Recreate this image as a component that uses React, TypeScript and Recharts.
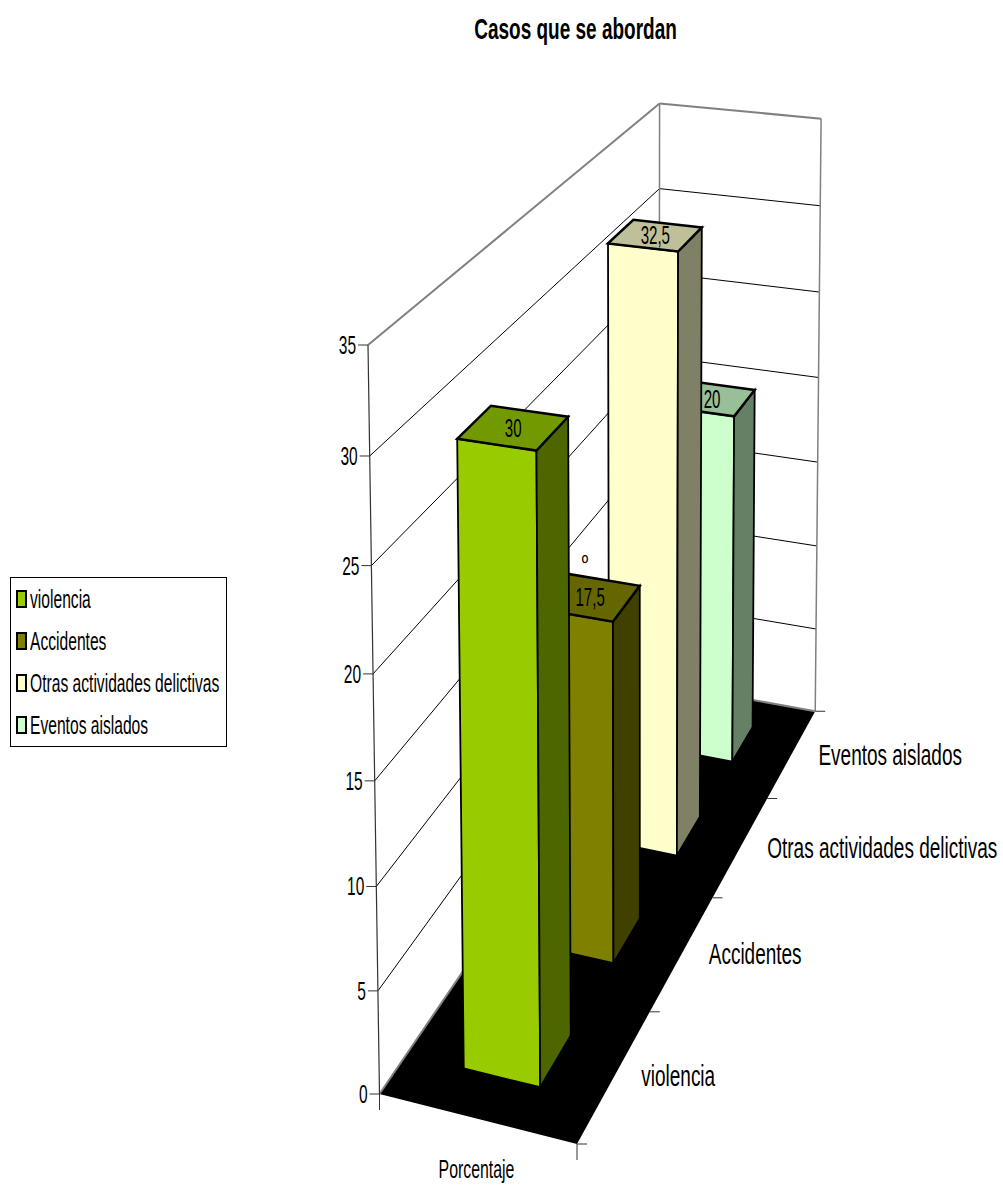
import React from "react";
import { BarChart, Bar, XAxis, YAxis, Legend, Customized, CartesianGrid } from "recharts";

const categories = ["violencia", "Accidentes", "Otras actividades delictivas", "Eventos aislados"];
const porcentaje = [30, 17.5, 32.5, 20];
const yTicks = [0, 5, 10, 15, 20, 25, 30, 35];
const frontColors = ["#99CC00", "#808000", "#FFFFCC", "#CCFFCC"];
const sideColors = ["#4D6600", "#404000", "#808066", "#668066"];
const topColors = ["#739900", "#666600", "#BFBF99", "#99BF99"];

// drawn back to front so nearer bars cover the farther ones
const table = categories.map((name, i) => ({ name, value: porcentaje[i], idx: i })).reverse();

const W = 1003;
const H = 1186;
// axes take 1px each (a zero sized axis is not drawn at all)
const margin = { left: 99, right: 100, top: 100, bottom: 99 };
const plotLeft = 100;
const plotW = 803;
const plotBottom = 1086;
const plotH = 986;
const FONT = "'Liberation Sans', Arial, sans-serif";

// bar thickness across the floor, as a share of the floor width
const U0 = 0.302;
const U1 = 0.697;

// perspective of the box: origin corner, the three far corners and their weights
const O = [379.5, 1094];
const PU = [577, 1144];
const PV = [368, 345];
const PW = [659, 683];
const wU = 0.97;
const wV = 0.958;
const wW = 1.31;

const project = (u: number, v: number, w: number) => {
  const d = 1 + u * (wU - 1) + v * (wV - 1) + w * (wW - 1);
  const at = (k: number) =>
    (O[k] + u * (wU * PU[k] - O[k]) + v * (wV * PV[k] - O[k]) + w * (wW * PW[k] - O[k])) / d;
  return [at(0), at(1)];
};
const pts = (list: number[][]) => list.map((p) => `${p[0]},${p[1]}`).join(" ");
const valueOf = (y: number) => (plotBottom - y) / plotH;
const depthOf = (x: number) => 1 - (x - plotLeft) / plotW;

const Narrow = ({ x, y, size, scale, anchor = "start", weight = "normal", children }: any) => (
  <text
    transform={`translate(${x} ${y}) scale(${scale} 1)`}
    textAnchor={anchor}
    fontFamily={FONT}
    fontSize={size}
    fontWeight={weight}
    fill="#000"
  >
    {children}
  </text>
);

const Line = ({ a, b, color = "#000", width = 1 }: any) => (
  <line x1={a[0]} y1={a[1]} x2={b[0]} y2={b[1]} stroke={color} strokeWidth={width} />
);

const Box = () => {
  const o = project(0, 0, 0);
  const u = project(1, 0, 0);
  const v = project(0, 1, 0);
  const d = project(0, 0, 1);
  const e = project(0, 1, 1);
  const f = project(1, 1, 1);
  const g = project(1, 0, 1);
  return (
    <g>
      <polygon points={pts([o, u, g, d])} fill="#000" />
      <Line a={o} b={d} color="#808080" width={2} />
      <Line a={d} b={g} color="#808080" width={2} />
      <Line a={d} b={e} color="#808080" width={1.5} />
      <Line a={g} b={f} color="#808080" width={1.5} />
      <Line a={v} b={e} color="#808080" width={2} />
      <Line a={e} b={f} color="#808080" width={2} />
      <Line a={v} b={o} color="#333" width={1.2} />
      <Line a={o} b={[o[0], o[1] + 16]} color="#333" />
      <Line a={u} b={[u[0], u[1] + 16]} color="#333" />
      <Line a={u} b={[u[0] + 10, u[1]]} color="#333" />
    </g>
  );
};

const Overlay = () => (
  <g>
    <Narrow x={575.5} y={39} size={29} scale={0.655} anchor="middle" weight="bold">
      Casos que se abordan
    </Narrow>
    <Narrow x={476.5} y={1178} size={25} scale={0.635} anchor="middle">
      Porcentaje
    </Narrow>
    <Narrow x={585} y={570} size={22} scale={0.8} anchor="middle">
      º
    </Narrow>
  </g>
);

// wall lines come from the grid so that they stay behind the bars
const WallLine = ({ y1 }: any) => {
  const v = valueOf(y1);
  if (v < 0.01 || v > 0.99) return <g />;
  const left = project(0, v, 0);
  const back = project(0, v, 1);
  const right = project(1, v, 1);
  return (
    <g key={y1}>
      <Line a={left} b={back} width={1} />
      <Line a={back} b={right} width={1} />
    </g>
  );
};

const ValueTick = ({ y, payload }: any) => {
  const left = project(0, valueOf(y), 0);
  return (
    <g>
      <Line a={[left[0] - 10, left[1]]} b={left} color="#333" />
      <Narrow x={left[0] - 12} y={left[1] + 9} size={25} scale={0.62} anchor="end">
        {payload.value}
      </Narrow>
    </g>
  );
};

const CategoryTick = ({ x, payload }: any) => {
  const w = depthOf(x);
  const band = 1 / categories.length;
  const edge = project(1, 0, w);
  const tick = project(1, 0, w + band / 2);
  return (
    <g>
      <Line a={tick} b={[tick[0] + 10, tick[1]]} color="#333" />
      <Narrow x={edge[0] + 26.5} y={edge[1] + 11} size={30} scale={0.633}>
        {payload.value}
      </Narrow>
    </g>
  );
};

const Bar3D = ({ x, y, width, payload }: any) => {
  const v = valueOf(y);
  const nearW = depthOf(x + width);
  const farW = depthOf(x);
  const a = project(U0, v, nearW);
  const b = project(U1, v, nearW);
  const c = project(U1, v, farW);
  const d = project(U0, v, farW);
  const a0 = project(U0, 0, nearW);
  const b0 = project(U1, 0, nearW);
  const c0 = project(U1, 0, farW);
  const mid = project((U0 + U1) / 2, v, (nearW + farW) / 2);
  const i = payload.idx;
  return (
    <g stroke="#000" strokeLinejoin="miter">
      <polygon points={pts([a, b, b0, a0])} fill={frontColors[i]} strokeWidth={1.8} />
      <polygon points={pts([b, c, c0, b0])} fill={sideColors[i]} strokeWidth={1.8} />
      <polygon points={pts([a, b, c, d])} fill={topColors[i]} strokeWidth={2.5} />
      <g stroke="none">
        <Narrow x={mid[0]} y={mid[1] + 9} size={26} scale={0.58} anchor="middle">
          {String(payload.value).replace(".", ",")}
        </Narrow>
      </g>
    </g>
  );
};

const LegendBox = () => (
  <div
    style={{
      boxSizing: "border-box",
      width: 217,
      height: 170,
      background: "#fff",
      border: "1px solid #000",
      position: "relative",
      fontFamily: FONT,
    }}
  >
    {categories.map((name, i) => (
      <div key={name} style={{ position: "absolute", left: 5, top: 12 + i * 42, height: 19 }}>
        <span
          style={{
            position: "absolute",
            left: 0,
            top: 0,
            width: 11,
            height: 18,
            boxSizing: "border-box",
            background: frontColors[i],
            border: "2px solid #000",
          }}
        />
        <span
          style={{
            position: "absolute",
            left: 14,
            top: -4,
            fontSize: 25,
            lineHeight: "27px",
            whiteSpace: "nowrap",
            color: "#000",
            transform: "scaleX(0.625)",
            transformOrigin: "left center",
          }}
        >
          {name}
        </span>
      </div>
    ))}
  </div>
);

export default function App() {
  return (
    <div style={{ position: "absolute", left: 0, top: 0, width: W, height: H, background: "#fff" }}>
      <BarChart width={W} height={H} data={table} margin={margin} barCategoryGap="30%">
        <Customized component={Box} />
        <CartesianGrid vertical={false} horizontal={WallLine} />
        <XAxis dataKey="name" height={1} axisLine={false} tickLine={false} interval={0} tick={CategoryTick} />
        <YAxis
          width={1}
          domain={[0, 35]}
          ticks={yTicks}
          interval={0}
          axisLine={false}
          tickLine={false}
          tick={ValueTick}
        />
        <Legend
          layout="vertical"
          align="center"
          verticalAlign="middle"
          content={LegendBox}
          wrapperStyle={{ left: 10, top: 577, width: 217, height: 170 }}
        />
        <Bar dataKey="value" shape={Bar3D} isAnimationActive={false} />
        <Customized component={Overlay} />
      </BarChart>
    </div>
  );
}
